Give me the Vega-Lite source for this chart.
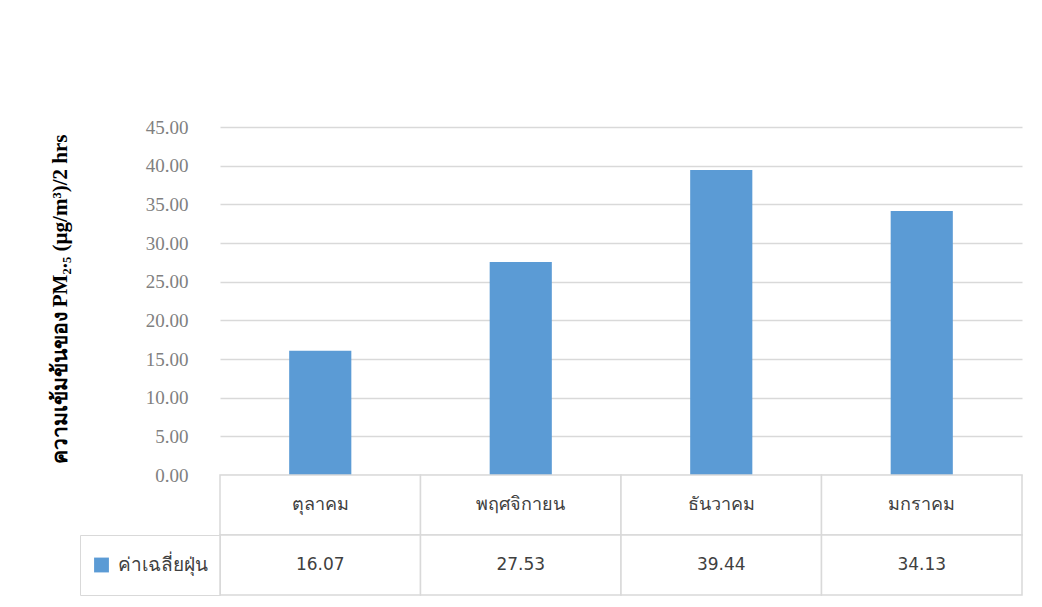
{
  "$schema": "https://vega.github.io/schema/vega-lite/v6.json",
  "autosize": {"type": "pad"},
  "padding": {"left": 48, "top": 118, "right": 20, "bottom": 5},
  "background": "white",
  "config": {"view": {"stroke": null}},
  "datasets": {
    "pm": [
      {"month": "ตุลาคม", "value": 16.07},
      {"month": "พฤศจิกายน", "value": 27.53},
      {"month": "ธันวาคม", "value": 39.44},
      {"month": "มกราคม", "value": 34.13}
    ]
  },
  "spacing": 0,
  "bounds": "flush",
  "vconcat": [
    {
      "width": 802,
      "height": 348,
      "data": {"name": "pm"},
      "mark": {"type": "bar"},
      "encoding": {
        "x": {
          "field": "month",
          "type": "nominal",
          "sort": null,
          "scale": {"paddingInner": 0.69, "paddingOuter": 0.345},
          "axis": null
        },
        "y": {
          "field": "value",
          "type": "quantitative",
          "scale": {"domain": [0, 45]},
          "axis": {
            "values": [0, 5, 10, 15, 20, 25, 30, 35, 40, 45],
            "format": ".2f",
            "grid": true,
            "gridColor": "#d9d9d9",
            "gridWidth": 1.5,
            "domain": false,
            "ticks": false,
            "labelFont": "Liberation Serif",
            "labelFontSize": 19,
            "labelColor": "#808080",
            "labelPadding": 32,
            "title": "ความเข้มข้นของ PM₂.₅ (µg/m³)/2 hrs",
            "titleFont": "Liberation Serif",
            "titleFontSize": 21,
            "titleFontWeight": "bold",
            "titleColor": "#000000",
            "titleAngle": -90,
            "titleAlign": "center",
            "titleBaseline": "middle",
            "titleX": -160,
            "titleY": 172
          }
        },
        "color": {
          "datum": "ค่าเฉลี่ยฝุ่น",
          "scale": {"range": ["#5b9bd5"]},
          "legend": {
            "orient": "none",
            "legendX": -140,
            "legendY": 408,
            "title": null,
            "symbolType": "square",
            "symbolSize": 220,
            "symbolStrokeWidth": 0,
            "labelFontSize": 19,
            "labelColor": "#404040",
            "labelOffset": 7,
            "strokeColor": "#d9d9d9",
            "padding": 12,
            "clipHeight": 36
          }
        }
      }
    },
    {
      "width": 802,
      "height": 120,
      "data": {"name": "pm"},
      "encoding": {
        "x": {
          "field": "month",
          "type": "nominal",
          "sort": null,
          "scale": {"paddingInner": 0, "paddingOuter": 0},
          "axis": null
        }
      },
      "layer": [
        {
          "mark": {"type": "rect", "fill": "white", "stroke": "#d9d9d9", "strokeWidth": 1.5},
          "encoding": {
            "y": {"datum": "m", "type": "nominal", "scale": {"domain": ["m", "v"], "paddingInner": 0, "paddingOuter": 0}, "axis": null}
          }
        },
        {
          "mark": {"type": "rect", "fill": "white", "stroke": "#d9d9d9", "strokeWidth": 1.5},
          "encoding": {
            "y": {"datum": "v", "type": "nominal"}
          }
        },
        {
          "mark": {"type": "text", "fontSize": 18, "color": "#404040"},
          "encoding": {
            "y": {"datum": "m", "type": "nominal"},
            "text": {"field": "month"}
          }
        },
        {
          "mark": {"type": "text", "font": "DejaVu Sans", "fontSize": 17, "color": "#404040"},
          "encoding": {
            "y": {"datum": "v", "type": "nominal"},
            "text": {"field": "value", "format": ".2f"}
          }
        }
      ]
    }
  ]
}
